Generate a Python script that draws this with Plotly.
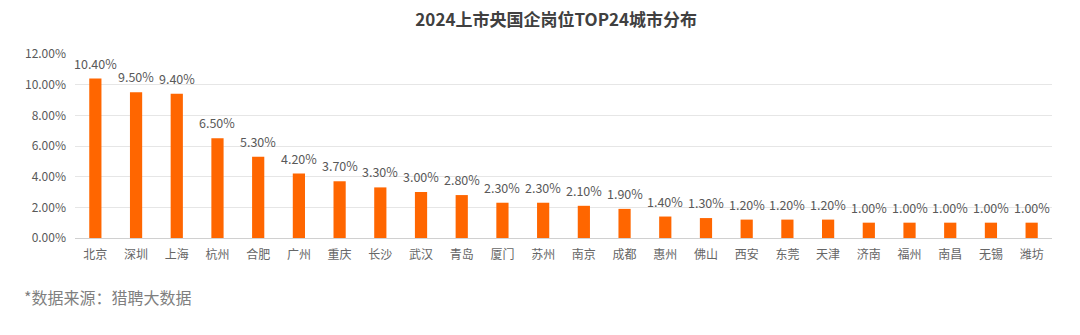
import plotly.graph_objects as go

cities = ["北京", "深圳", "上海", "杭州", "合肥", "广州", "重庆", "长沙", "武汉", "青岛", "厦门", "苏州",
          "南京", "成都", "惠州", "佛山", "西安", "东莞", "天津", "济南", "福州", "南昌", "无锡", "潍坊"]
shares = [10.4, 9.5, 9.4, 6.5, 5.3, 4.2, 3.7, 3.3, 3.0, 2.8, 2.3, 2.3,
          2.1, 1.9, 1.4, 1.3, 1.2, 1.2, 1.2, 1.0, 1.0, 1.0, 1.0, 1.0]
y_ticks = [0, 2, 4, 6, 8, 10, 12]
title = "2024上市央国企岗位TOP24城市分布"
note = "*数据来源：猎聘大数据"

FONT = "Noto Sans CJK SC, Noto Sans, sans-serif"

fig = go.Figure(go.Bar(
    x=cities, y=shares,
    marker=dict(color="#FF6600", line=dict(width=0)),
    cliponaxis=False,
    width=0.3,
))

annotations = [dict(x=c, y=v, xref="x", yref="y", text=f"{v:.2f}%", showarrow=False,
                    yanchor="bottom", xanchor="center", yshift=4,
                    font=dict(size=12.5, color="#595959", family=FONT))
               for c, v in zip(cities, shares)]
annotations.append(dict(text=note, xref="paper", yref="paper", x=-0.054, y=-0.32,
                        xanchor="left", yanchor="middle", showarrow=False,
                        font=dict(size=16, color="#7f7f7f", family=FONT)))

fig.update_layout(
    width=1080, height=335,
    margin=dict(l=75, r=28, t=54, b=97, autoexpand=False),
    paper_bgcolor="white", plot_bgcolor="white",
    font=dict(family=FONT, color="#595959"),
    showlegend=False,
    title=dict(text="<b>" + title + "</b>", x=0.515, xanchor="center", y=0.94, yanchor="middle",
               font=dict(size=17, color="#404040", family=FONT)),
    annotations=annotations,
)
fig.update_xaxes(showgrid=False, showline=True, linecolor="#d0d0d0", linewidth=1, automargin=False,
                 range=[-0.5, len(cities) - 0.5],
                 tickfont=dict(size=12, color="#666666"), ticks="", ticklabelstandoff=6)
fig.update_yaxes(range=[0, 12], tickvals=y_ticks, ticktext=[f"{v:.2f}%" for v in y_ticks],
                 showgrid=True, gridcolor="#e6e6e6", gridwidth=1, zeroline=False, automargin=False,
                 tickfont=dict(size=12, color="#595959"), ticks="", ticklabelstandoff=8)

fig.write_html("out.html")
